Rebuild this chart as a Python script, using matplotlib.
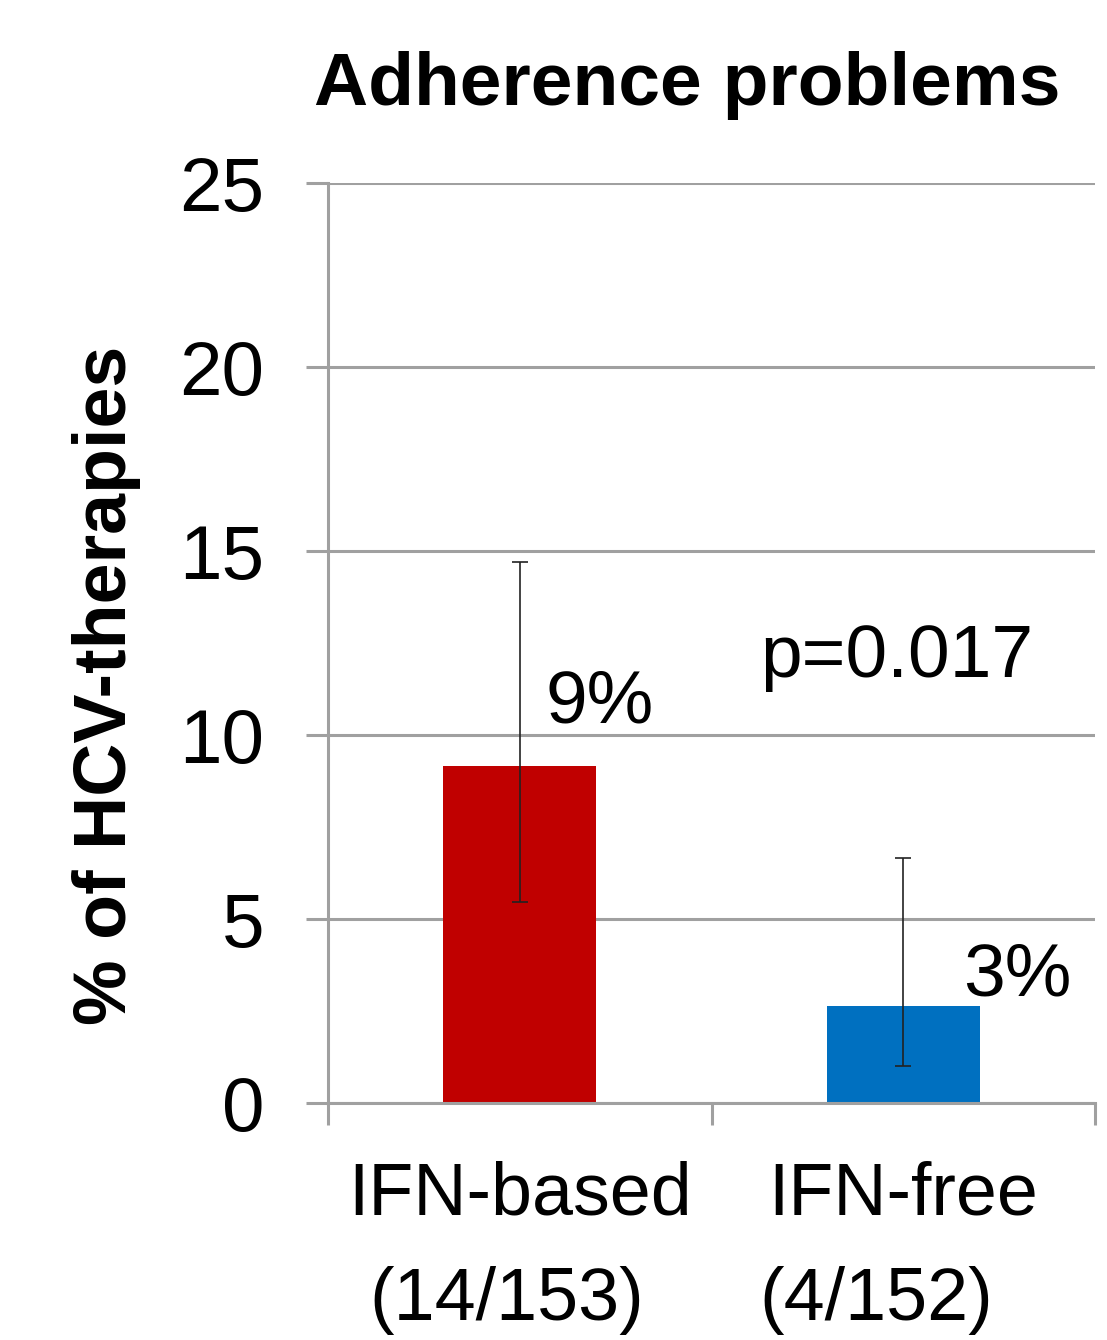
import matplotlib
matplotlib.use("Agg")
import matplotlib.pyplot as plt
from matplotlib.ticker import FixedLocator

categories = ["IFN-based", "IFN-free"]
counts = ["(14/153)", "(4/152)"]
values = [9.15, 2.63]
err_low = [5.45, 1.0]
err_high = [14.7, 6.65]
bar_labels = ["9%", "3%"]
colors = ["#C00000", "#0070C0"]
p_text = "p=0.017"
yticks = [0, 5, 10, 15, 20, 25]

plt.rcParams['font.family'] = ['Liberation Sans', 'DejaVu Sans']
fig = plt.figure(figsize=(11.07, 13.4), dpi=100)
ax = fig.add_axes([328/1107, 1-1103/1340, (1095-328)/1107, (1103-183)/1340])

x = list(range(len(categories)))
yerr = [[v - lo for v, lo in zip(values, err_low)], [hi - v for v, hi in zip(values, err_high)]]
ax.bar(x, values, width=0.4, color=colors, zorder=3)
ax.errorbar(x, values, yerr=yerr, fmt='none', ecolor='#222222', elinewidth=1.2,
            capsize=6, capthick=1.2, zorder=4)

ax.set_xlim(-0.5, 1.5)
ax.set_ylim(0, 25)
ax.set_yticks(yticks)
ax.set_yticklabels([str(t) for t in yticks], fontsize=55)
ax.yaxis.grid(True, color='#A0A0A0', linewidth=2.2, zorder=0)
ax.tick_params(axis='y', length=16, width=2.2, color='#A0A0A0', pad=30)
for s in ['top', 'right']:
    ax.spines[s].set_visible(False)
for s in ['left', 'bottom']:
    ax.spines[s].set_color('#A0A0A0')
    ax.spines[s].set_linewidth(2.2)
    ax.spines[s].set_zorder(5)

ax.set_xticks(x)
ax.set_xticklabels([])
ax.tick_params(axis='x', which='major', length=0)
ax.xaxis.set_minor_locator(FixedLocator([-0.5, 0.5, 1.5]))
ax.tick_params(axis='x', which='minor', length=16, width=2.2, color='#A0A0A0')

count_shift = [-0.035, -0.07]
for xi, cat, cnt, dx in zip(x, categories, counts, count_shift):
    ax.text(xi, -3.04, cat, fontsize=53, ha='center', va='baseline',
            transform=ax.transData, clip_on=False)
    ax.text(xi + dx, -5.9, cnt, fontsize=53, ha='center', va='baseline',
            transform=ax.transData, clip_on=False)

ax.text(0.066, 10.35, bar_labels[0], fontsize=54, ha='left', va='baseline', zorder=6)
ax.text(1.156, 2.93, bar_labels[1], fontsize=54, ha='left', va='baseline', zorder=6)
ax.text(0.626, 11.58, p_text, fontsize=54, ha='left', va='baseline', zorder=6)

fig.text(687/1107, 1-105/1340, "Adherence problems", fontsize=54, fontweight='bold',
         ha='center', va='baseline')
fig.text(107/1107, 1-685/1340, "% of HCV-therapies", fontsize=53, fontweight='bold',
         ha='center', va='center', rotation=90)

fig.savefig("out.png", dpi=100)
